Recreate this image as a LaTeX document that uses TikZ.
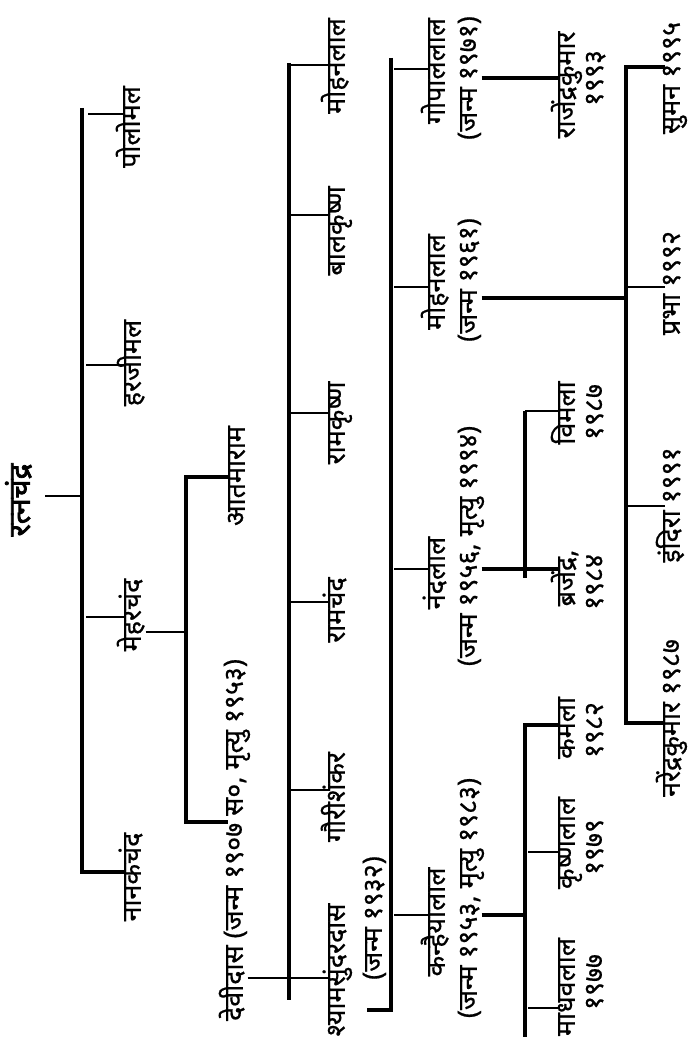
\documentclass[tikz,border=0pt]{standalone}
\usepackage{fontspec}
\setmainfont[Script=Devanagari, FakeBold=0.6]{Noto Sans}
\newfontfamily\rootfont[Script=Devanagari, FakeBold=2.5]{Noto Sans}
\begin{document}
\begin{tikzpicture}[x=0.02cm,y=-0.02cm,
  lab/.style={rotate=90, inner sep=0pt, text height=0.8em, text depth=0.25em, font=\fontsize{15.3}{18}\selectfont},
  rootlab/.style={lab, font=\fontsize{17}{18}\rootfont},
  bar/.style={line width=1.9pt},
  tick/.style={line width=1.2pt}]
\fill[white] (0,0) rectangle (695,1047);
\useasboundingbox (0,0) rectangle (695,1047);

% ---------- root ----------
\node[rootlab] (rat) at (25,500) {रत्नचंद्र};
\coordinate (b1t) at (82,108);
\coordinate (b1b) at (82,872);
\coordinate (r1) at (82,496);
\draw[tick, shorten <=6pt] (rat.south |- r1) -- (r1);

% ---------- level 1 ----------
\node[lab] (polo)  at (135,127) {पोलोमल};
\node[lab] (harji) at (136,363) {हरजीमल};
\node[lab] (mehar) at (136,615) {मेहरचंद};
\node[lab] (nanak) at (136,877) {नानकचंद};
\coordinate (c-polo)  at (88,114);
\coordinate (c-harji) at (86,365);
\coordinate (c-mehar) at (86,617);
\draw[bar] (b1t) -- (b1b) -- (b1b -| nanak.north);
\draw[tick] (c-polo) -- (c-polo -| polo.north);
\draw[tick] (c-harji) -- (c-harji -| harji.north);
\draw[tick] (c-mehar) -- (c-mehar -| mehar.north);

% ---------- level 2 ----------
\node[lab] (atma) at (240,476) {आतमाराम};
\node[lab] (devi) at (238,840) {देवीदास (जन्म १९०७ स०, मृत्यु १९५३)};
\coordinate (b2t) at (186,477);
\coordinate (b2b) at (186,822);
\coordinate (m2) at (186,632);
\draw[bar] (b2t -| atma.north) -- (b2t) -- (b2b) -- (b2b -| devi.north);
\draw[tick] (mehar.south |- m2) -- (m2);

% ---------- level 3 ----------
\node[lab] (mohana) at (340,66)  {मोहनलाल};
\node[lab] (bal)    at (340,231) {बालकृष्ण};
\node[lab] (ramk)   at (340,423) {रामकृष्ण};
\node[lab] (ramc)   at (340,610) {रामचंद};
\node[lab] (gauri)  at (340,797) {गौरीशंकर};
\node[lab] (shyam)  at (340,970) {श्यामसुंदरदास};
\node[lab] (shyamb) at (377,918) {(जन्म १९३२)};
\coordinate (b3t) at (289,63);
\coordinate (b3b) at (289,1000);
\coordinate (d3) at (289,978);
\draw[bar] (b3t) -- (b3b);
\draw[tick] (devi.south |- d3) -- (d3);
\foreach \n/\y in {mohana/65, bal/215, ramk/413, ramc/602, gauri/790, shyam/978}{
  \coordinate (c-\n) at (291,\y);
  \draw[tick] (c-\n) -- (c-\n -| \n.north);
}

% ---------- level 4 ----------
\node[lab] (gopal)   at (440,71)  {गोपाललाल};
\node[lab] (gopalb)  at (472,78)  {(जन्म १९७१)};
\node[lab] (mohanb)  at (440,282) {मोहनलाल};
\node[lab] (mohanbb) at (472,280) {(जन्म १९६१)};
\node[lab] (nand)    at (440,573) {नंदलाल};
\node[lab] (nandb)   at (472,546) {(जन्म १९५६, मृत्यु १९९४)};
\node[lab] (kanh)    at (440,922) {कन्हैयालाल};
\node[lab] (kanhb)   at (472,898) {(जन्म १९५३, मृत्यु १९८३)};
\coordinate (b4t) at (391,58);
\coordinate (b4b) at (391,1010);
\draw[bar] (b4t) -- (b4b) -- (b4b -| shyamb.north);
\foreach \n/\y in {gopal/69, mohanb/287, nand/569, kanh/915}{
  \coordinate (c-\n) at (394,\y);
  \draw[tick] (c-\n) -- (c-\n -| \n.north);
}

% ---------- level 5 : rajendra ----------
\node[lab] (raj)  at (570,85) {राजेंद्रकुमार};
\node[lab] (rajb) at (598,78) {१९९३};
\draw[bar] (gopalb.south) -- (gopalb.south -| raj.north);

% ---------- level 5 : nandlal ----------
\node[lab] (vimala)  at (570,413) {विमला};
\node[lab] (vimalab) at (598,412) {१९८७};
\node[lab] (braj)    at (570,578) {ब्रजेंद्र,};
\node[lab] (brajb)   at (598,582) {१९८४};
\coordinate (b5t) at (525,411);
\coordinate (b5b) at (525,578);
\coordinate (n5) at (525,569);
\draw[bar] (b5t) -- (b5b);
\draw[bar] (nandb.south |- n5) -- (n5 -| braj.north);
\draw[tick] (b5t) -- (b5t -| vimala.north);

% ---------- level 5 : kanhaiyalal ----------
\node[lab] (kamala)   at (570,728) {कमला};
\node[lab] (kamalab)  at (598,730) {१९८२};
\node[lab] (krishna)  at (570,843) {कृष्णलाल};
\node[lab] (krishnab) at (598,847) {१९७९};
\node[lab] (madhav)   at (570,987) {माधवलाल};
\node[lab] (madhavb)  at (598,982) {१९७७};
\coordinate (k5t) at (525,725);
\coordinate (k5b) at (525,1037);
\coordinate (k5) at (525,915);
\draw[bar] (k5t -| kamala.north) -- (k5t) -- (k5b);
\draw[bar] (kanhb.south |- k5) -- (k5);
\coordinate (c-krishna) at (528,852);
\coordinate (c-madhav) at (528,1008);
\draw[tick] (c-krishna) -- (c-krishna -| krishna.north);
\draw[tick] (c-madhav) -- (c-madhav -| madhav.north);

% ---------- level 6 : mohanlal ----------
\node[lab] (suman)  at (675,78)  {सुमन १९९५};
\node[lab] (prabha) at (675,283) {प्रभा १९९२};
\node[lab] (indira) at (675,505) {इंदिरा १९९१};
\node[lab] (naren)  at (675,718) {नरेंद्रकुमार १९८७};
\coordinate (b6t) at (626,67);
\coordinate (b6b) at (626,723);
\coordinate (m6) at (626,298);
\draw[bar] (b6t -| suman.north) -- (b6t) -- (b6b) -- (b6b -| naren.north);
\draw[bar] (mohanbb.south |- m6) -- (m6);
\coordinate (c-prabha) at (628,287);
\coordinate (c-indira) at (628,506);
\draw[tick] (c-prabha) -- (c-prabha -| prabha.north);
\draw[tick] (c-indira) -- (c-indira -| indira.north);
\end{tikzpicture}
\end{document}
